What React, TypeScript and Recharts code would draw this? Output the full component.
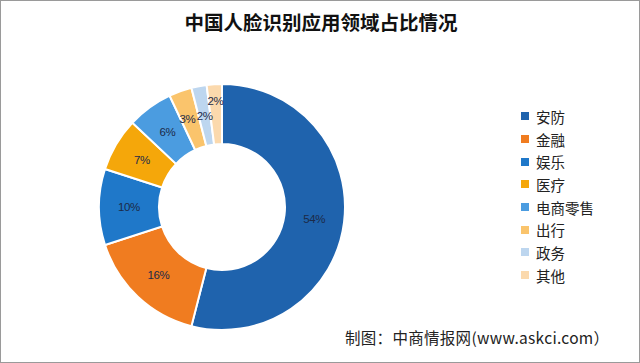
import { Cell, Pie, PieChart } from 'recharts'

const categories = ['安防', '金融', '娱乐', '医疗', '电商零售', '出行', '政务', '其他']
const shares = [54, 16, 10, 7, 6, 3, 2, 2]
const colors = ['#1f63ad', '#f07c20', '#1f78c9', '#f5a70a', '#4b9ce0', '#fac46c', '#bdd6ef', '#fbd9ad']

const chartData = categories.map((name, i) => ({ name, value: shares[i] }))

const RAD = Math.PI / 180

function renderLabel(props: any) {
  const { cx, cy, midAngle, innerRadius, outerRadius, value, index } = props
  const last = index === categories.length - 1
  // tiny slices: nudge labels apart a little, like the source
  const r = (innerRadius + outerRadius) / 2 + (last ? 13 : 0)
  const dx = index === 5 ? -3 : 0
  const x = cx + r * Math.cos(-midAngle * RAD) + dx
  const y = cy + r * Math.sin(-midAngle * RAD)
  return (
    <text
      key={`lbl-${index}`}
      x={x}
      y={y}
      fill="#1c2a48"
      fontSize={11.5}
      letterSpacing={-0.4}
      fontFamily="'Liberation Sans', Arial, sans-serif"
      textAnchor="middle"
      dominantBaseline="central"
    >
      {`${value}%`}
    </text>
  )
}

export default function App() {
  return (
    <div
      style={{
        position: 'absolute',
        left: 0,
        top: 0,
        width: 640,
        height: 363,
        boxSizing: 'border-box',
        border: '1px solid #9a9a9a',
        background: '#fff',
        fontFamily: "'Noto Sans CJK SC', sans-serif",
        overflow: 'hidden',
      }}
    >
      <div
        style={{
          position: 'absolute',
          top: 6,
          left: 0,
          width: 640,
          textAlign: 'center',
          fontSize: 19.5,
          fontWeight: 'bold',
          color: '#111',
        }}
      >
        中国人脸识别应用领域占比情况
      </div>
      <PieChart width={638} height={361} margin={{ top: 0, right: 0, bottom: 0, left: 0 }}>
        <Pie
          data={chartData}
          dataKey="value"
          nameKey="name"
          cx={221}
          cy={206}
          innerRadius={63}
          outerRadius={123}
          startAngle={90}
          endAngle={-270}
          stroke="#fff"
          strokeWidth={2}
          label={renderLabel}
          labelLine={false}
          isAnimationActive={false}
        >
          {chartData.map((d, i) => (
            <Cell key={d.name} fill={colors[i]} />
          ))}
        </Pie>
      </PieChart>
      <div style={{ position: 'absolute', left: 520, top: 104, display: 'flex', flexDirection: 'column' }}>
        {categories.map((name, i) => (
          <div key={name} style={{ display: 'flex', alignItems: 'center', height: 22.7 }}>
            <span style={{ width: 8, height: 8, background: colors[i], marginRight: 7 }} />
            <span style={{ fontSize: 14.5, color: '#222' }}>{name}</span>
          </div>
        ))}
      </div>
      <div
        style={{
          position: 'absolute',
          left: 344,
          top: 325,
          fontSize: 15.5,
          letterSpacing: 0.3,
          color: '#222',
          whiteSpace: 'nowrap',
        }}
      >
        制图：中商情报网(www.askci.com）
      </div>
    </div>
  )
}
